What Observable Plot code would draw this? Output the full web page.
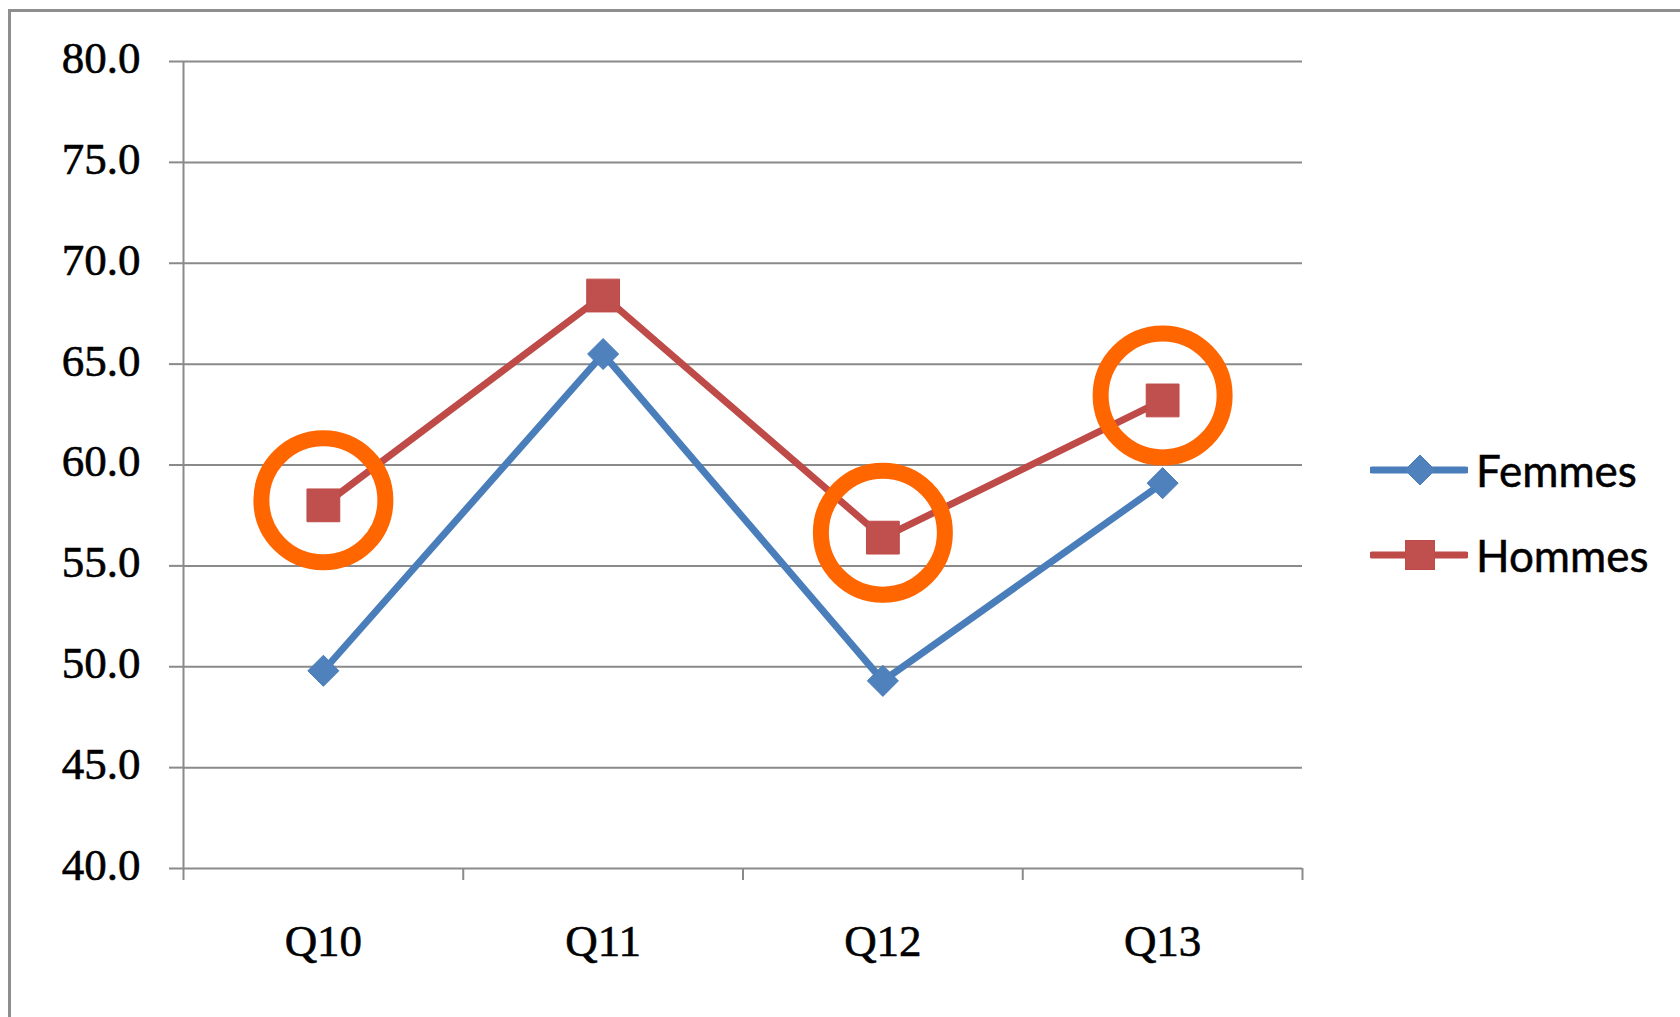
<!DOCTYPE html>
<html>
<head>
<meta charset="utf-8">
<script src="https://cdn.jsdelivr.net/npm/d3@7"></script>
<script src="https://cdn.jsdelivr.net/npm/@observablehq/plot@0.6"></script>
<style>
  html, body { margin: 0; padding: 0; background: #fff; overflow: hidden; }
  #wrap { position: relative; width: 1680px; height: 1017px; background: #fff; }
  #chart { position: absolute; left: 0; top: 0; }
  #chart text { stroke: #000; stroke-width: 0.6px; }
  #border { position: absolute; left: 8px; top: 9px; width: 1700px; height: 1100px;
            border: 3px solid #8e8e8e; box-sizing: border-box; pointer-events: none; }
  .legend-row { position: absolute; left: 1370px; height: 60px; display: flex; align-items: center; }
  .legend-row svg { display: block; }
  .legend-row span { font-family: Lato, "Open Sans", sans-serif; font-size: 44px; color: #000;
                     margin-left: 8px; line-height: 1; -webkit-text-stroke: 0.5px #000; }
</style>
</head>
<body>
<div id="wrap">
  <div id="chart"></div>
  <div id="border"></div>
</div>
<script>
// Survey questions and the score of each group
const categories = ["Q10", "Q11", "Q12", "Q13"];
const femmes = [49.8, 65.5, 49.3, 59.1];
const hommes = [58.0, 68.4, 56.4, 63.2];
// Questions whose "Hommes" point is ringed
const highlighted = ["Q10", "Q12", "Q13"];
// Value axis ticks
const yTicks = [40, 45, 50, 55, 60, 65, 70, 75, 80];

const seriesNames = ["Femmes", "Hommes"];
const lineColors = ["#4A7EBB", "#BE4B48"];
const markerColors = ["#4F81BD", "#C0504D"];
const gridColor = "#8a8a8a";

const rows = categories.map((cat, i) => ({ i, cat, femmes: femmes[i], hommes: hommes[i] }));
const boundaries = d3.range(-0.5, categories.length, 1);
const serif = "'Liberation Serif', 'DejaVu Serif', serif";

const chart = Plot.plot({
  width: 1680,
  height: 1017,
  marginLeft: 183,
  marginRight: 378,
  marginTop: 61,
  marginBottom: 149,
  style: { background: "transparent", fontFamily: serif, fontSize: "45px", overflow: "visible" },
  x: { type: "linear", domain: [-0.5, categories.length - 0.5], axis: null },
  y: { domain: [40, 80], axis: null },
  marks: [
    Plot.gridY(yTicks, { stroke: gridColor, strokeOpacity: 1, strokeWidth: 2 }),
    Plot.ruleX([-0.5], { stroke: gridColor, strokeWidth: 2 }),
    Plot.axisY({
      ticks: yTicks, tickSize: 14, label: null, text: null,
      stroke: gridColor, strokeWidth: 2
    }),
    Plot.axisY({
      ticks: yTicks, tickFormat: d3.format(".1f"), tickSize: 14, tickPadding: 29, label: null,
      stroke: "none", fill: "#000", fontSize: 45, fontFamily: serif, dy: -3
    }),
    // category separators below the baseline
    Plot.axisX({
      ticks: boundaries, tickFormat: () => "", tickSize: 12, label: null,
      stroke: gridColor, strokeWidth: 2
    }),
    Plot.axisX({
      ticks: d3.range(categories.length), tickFormat: (i) => categories[i], label: null,
      tickSize: 0, tickPadding: 56, fill: "#000", fontSize: 45, fontFamily: serif
    }),
    Plot.line(rows, { x: "i", y: "femmes", stroke: lineColors[0], strokeWidth: 7, strokeLinejoin: "round" }),
    Plot.dot(rows, { x: "i", y: "femmes", symbol: "diamond2", r: 14, fill: markerColors[0], stroke: lineColors[0], strokeWidth: 1 }),
    Plot.line(rows, { x: "i", y: "hommes", stroke: lineColors[1], strokeWidth: 7, strokeLinejoin: "round" }),
    Plot.dot(rows, { x: "i", y: "hommes", symbol: "square", r: 18.5, fill: markerColors[1], stroke: lineColors[1], strokeWidth: 1 }),
    // orange rings around the highlighted "Hommes" points
    Plot.dot(rows.filter((d) => highlighted.includes(d.cat)), {
      x: "i", y: "hommes", r: 62, fill: "none", stroke: "#FF6600", strokeWidth: 16, dy: -5
    })
  ]
});
document.getElementById("chart").appendChild(chart);

// Legend: line + marker swatch followed by the series name
const legendTops = [440, 525];
const wrap = document.getElementById("wrap");
seriesNames.forEach((name, k) => {
  const row = document.createElement("div");
  row.className = "legend-row";
  row.style.top = legendTops[k] + "px";
  const svg = d3.create("svg").attr("width", 98).attr("height", 60);
  svg.append("line").attr("x1", 2).attr("x2", 96).attr("y1", 30).attr("y2", 30)
    .attr("stroke", lineColors[k]).attr("stroke-width", 7).attr("stroke-linecap", "round");
  if (k === 0) {
    svg.append("path").attr("d", "M50,15 L65,30 L50,45 L35,30 Z")
      .attr("fill", markerColors[0]).attr("stroke", lineColors[0]);
  } else {
    svg.append("rect").attr("x", 35.5).attr("y", 15.5).attr("width", 29).attr("height", 29)
      .attr("fill", markerColors[1]).attr("stroke", lineColors[1]);
  }
  row.appendChild(svg.node());
  const label = document.createElement("span");
  label.textContent = name;
  row.appendChild(label);
  wrap.appendChild(row);
});
</script>
</body>
</html>
